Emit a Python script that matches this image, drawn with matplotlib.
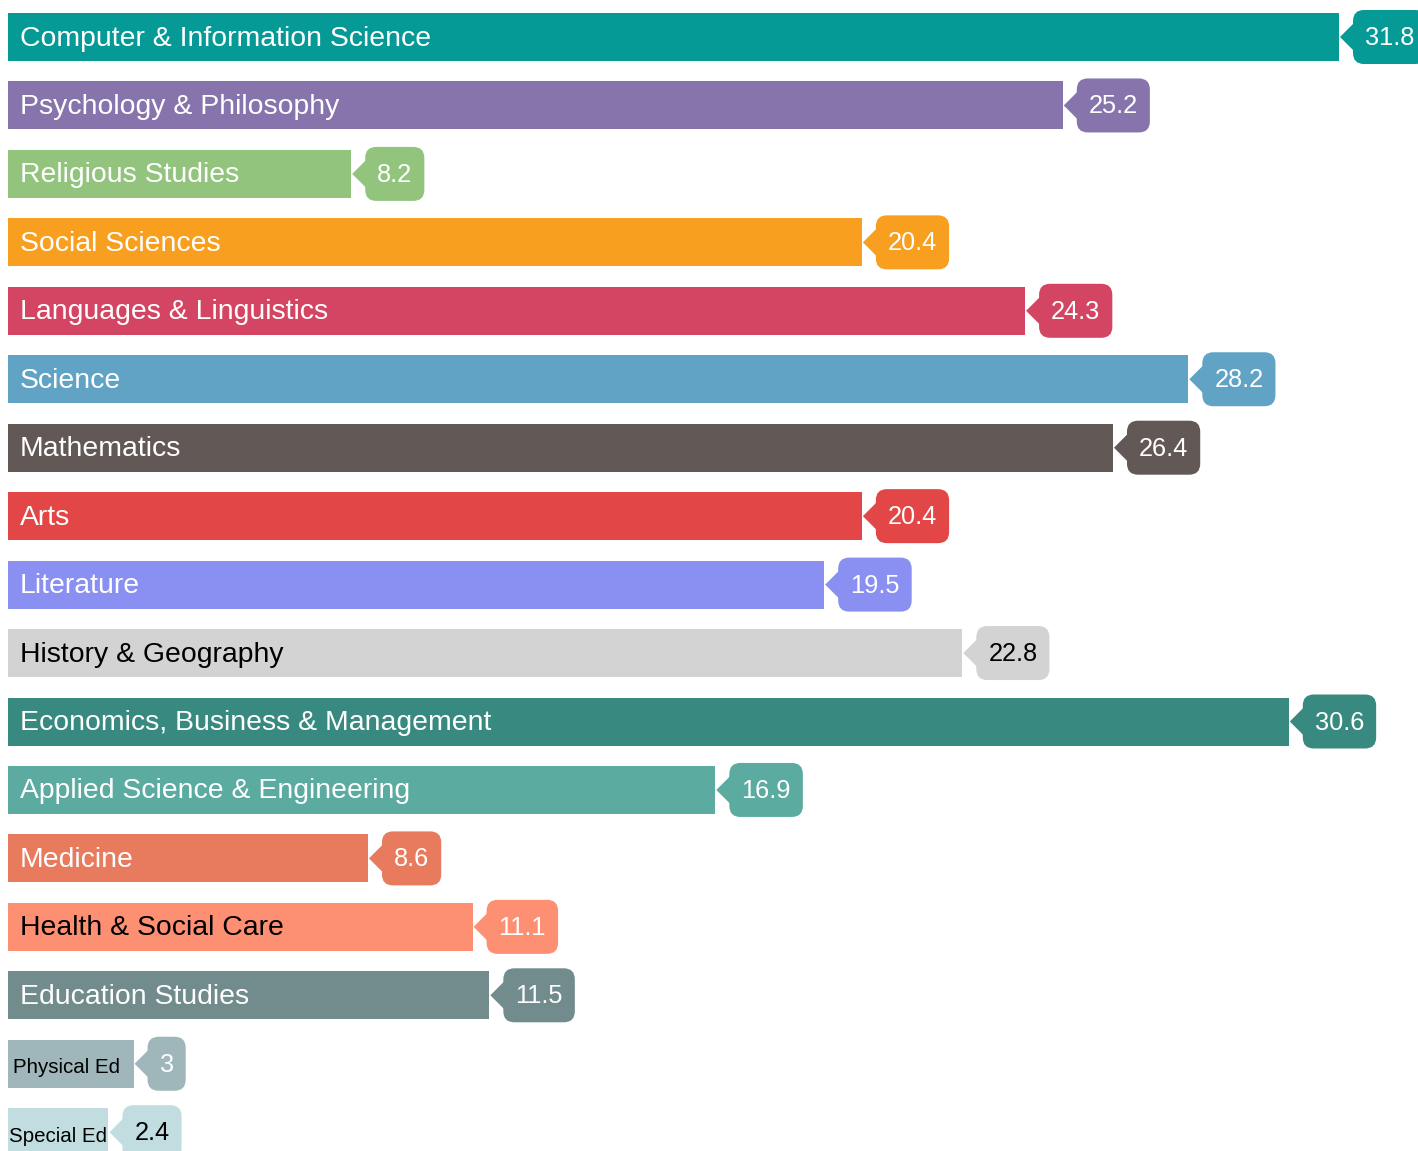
import matplotlib
matplotlib.use("Agg")
import matplotlib.pyplot as plt
from matplotlib.patches import FancyBboxPatch, Polygon
from matplotlib.transforms import IdentityTransform

plt.rcParams["font.family"] = ["Liberation Sans", "DejaVu Sans"]

categories = [
    "Computer & Information Science", "Psychology & Philosophy", "Religious Studies",
    "Social Sciences", "Languages & Linguistics", "Science", "Mathematics", "Arts",
    "Literature", "History & Geography", "Economics, Business & Management",
    "Applied Science & Engineering", "Medicine", "Health & Social Care",
    "Education Studies", "Physical Ed", "Special Ed",
]
values = [31.8, 25.2, 8.2, 20.4, 24.3, 28.2, 26.4, 20.4, 19.5, 22.8, 30.6,
          16.9, 8.6, 11.1, 11.5, 3, 2.4]
value_labels = ["31.8", "25.2", "8.2", "20.4", "24.3", "28.2", "26.4", "20.4", "19.5",
                "22.8", "30.6", "16.9", "8.6", "11.1", "11.5", "3", "2.4"]
colors = ["#069a96", "#8874ad", "#93c47d", "#f89f1f", "#d34562", "#61a3c5", "#625856",
          "#e34646", "#8a8ff2", "#d3d3d3", "#388a80", "#5baba0", "#e87a5e", "#fd8f73",
          "#728b8c", "#9fb6ba", "#c2dde0"]
label_colors = ["white"] * 9 + ["black"] + ["white"] * 3 + ["black", "white", "black", "black"]
value_colors = ["white"] * 9 + ["black"] + ["white"] * 6 + ["black"]

DPI = 100
fig = plt.figure(figsize=(14.18, 11.51), dpi=DPI)
ax = fig.add_axes([0, 0, 1, 1])
ax.set_axis_off()

px_per_unit = (1339 - 8) / 31.8
row_px = 68.45
ax.set_xlim(-8 / px_per_unit, (1418 - 8) / px_per_unit)
ax.set_ylim((1151 - 37) / row_px, -37 / row_px)

n = len(categories)
ax.barh(range(n), values, height=48 / row_px, color=colors, left=0)

renderer = fig.canvas.get_renderer()
ident = IdentityTransform()

for i, (cat, val) in enumerate(zip(categories, values)):
    small = cat in ("Physical Ed", "Special Ed")
    pad = 12 if not small else (5 if cat == "Physical Ed" else 1)
    size = 20.4 if not small else 14.8
    dy = 1.5 if not small else 4
    xd, yd = ax.transData.transform((val, i))
    xl, _ = ax.transData.transform((0, i))
    ax.text(xl + pad, yd - dy, cat, transform=ident, color=label_colors[i],
            fontsize=size, va="center", ha="left")

    # callout: arrow + rounded box sized to the number
    base = xd + 14
    t = ax.text(base + 12, yd - 1, value_labels[i], transform=ident, color=value_colors[i],
                fontsize=18.3, va="center", ha="left", zorder=5)
    tw = t.get_window_extent(renderer).width
    right = base + tw + 24
    half = 27
    tri = Polygon([[xd + 1, yd], [base + 2, yd + 15], [base + 2, yd - 15]], closed=True,
                  transform=ident, facecolor=colors[i], edgecolor="none", zorder=3,
                  clip_on=False)
    ax.add_artist(tri)
    box = FancyBboxPatch((base, yd - half), right - base, 2 * half,
                         boxstyle="round,pad=0,rounding_size=11", transform=ident,
                         facecolor=colors[i], edgecolor="none", zorder=3, clip_on=False)
    ax.add_artist(box)

fig.savefig("out.png", dpi=DPI)
